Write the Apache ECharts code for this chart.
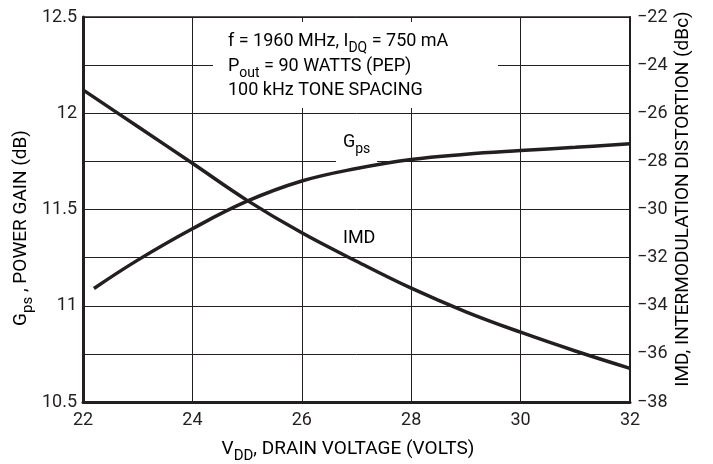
<!DOCTYPE html>
<html>
<head>
<meta charset="utf-8">
<script src="https://cdn.jsdelivr.net/npm/echarts@6/dist/echarts.min.js"></script>
<style>
  html, body { margin: 0; padding: 0; background: #fff; }
  #chart { width: 713px; height: 464px; }
</style>
</head>
<body>
<div id="chart"></div>
<script>
// drain voltage (V) vs power gain (dB) and IMD (dBc)
var gpsVolts = [22.2, 23, 24, 25, 26, 27, 28, 29, 30, 31, 32];
var gpsGain = [11.09, 11.237, 11.40, 11.543, 11.648, 11.713, 11.76, 11.787, 11.806, 11.823, 11.842];
var imdVolts = [22, 23, 24, 25, 26, 27, 28, 29, 30, 31, 32];
var imdValues = [-25.03, -26.55, -28.08, -29.62, -30.97, -32.15, -33.27, -34.25, -35.1, -35.88, -36.6];

var FONT = "Roboto, 'Liberation Sans', sans-serif";
var INK = '#231f20';

function pairs(xs, ys) {
  var out = [];
  for (var i = 0; i < xs.length; i++) out.push([xs[i], ys[i]]);
  return out;
}

// rich styles: normal text raised a bit so the subscript sits lower
function richOf(size) {
  return {
    a: { fontFamily: FONT, fontSize: size, color: INK, verticalAlign: 'bottom', padding: [0, 0, 5, 0] },
    s: { fontFamily: FONT, fontSize: Math.round(size * 0.78), color: INK, verticalAlign: 'bottom' }
  };
}
var rich = richOf(18);
var richBig = richOf(19);

var chart = echarts.init(document.getElementById('chart'));

var option = {
  backgroundColor: '#fff',
  animation: false,
  grid: {
    left: 83, right: 83, top: 17, bottom: 62,
    show: true, borderColor: INK, borderWidth: 1.5
  },
  xAxis: {
    type: 'value',
    min: 22, max: 32, interval: 2,
    axisLine: { show: true, lineStyle: { color: INK, width: 3 } },
    axisTick: { show: false },
    axisLabel: { fontFamily: FONT, fontSize: 18, color: INK, margin: 9 },
    splitLine: { show: true, lineStyle: { color: INK, width: 1 } }
  },
  yAxis: [{
    type: 'value',
    min: 10.5, max: 12.5, interval: 0.25,
    axisLine: { show: true, lineStyle: { color: INK, width: 3 } },
    axisTick: { show: false },
    axisLabel: {
      fontFamily: FONT, fontSize: 18, color: INK, margin: 6,
      formatter: function (v) {
        return (Math.round(v * 100) % 50 === 0) ? String(v) : '';
      }
    },
    splitLine: { show: true, lineStyle: { color: INK, width: 1 } }
  }, {
    type: 'value',
    position: 'right',
    min: -38, max: -22, interval: 2,
    axisLine: { show: true, lineStyle: { color: INK, width: 2 } },
    axisTick: { show: false },
    axisLabel: {
      fontFamily: FONT, fontSize: 18, color: INK, margin: 7,
      formatter: function (v) { return String(v).replace('-', '\u2212'); }
    },
    splitLine: { show: false }
  }],
  series: [{
    name: 'Gps',
    type: 'line',
    yAxisIndex: 0,
    data: pairs(gpsVolts, gpsGain),
    smooth: 0.4,
    showSymbol: false,
    lineStyle: { color: INK, width: 3.5 },
    z: 5
  }, {
    name: 'IMD',
    type: 'line',
    yAxisIndex: 1,
    data: pairs(imdVolts, imdValues),
    smooth: 0.4,
    showSymbol: false,
    lineStyle: { color: INK, width: 3.5 },
    z: 5
  }],
  graphic: [
    // white backing behind the conditions text and the Gps label
    { type: 'rect', z: 1, shape: { x: 213, y: 22, width: 285, height: 86 }, style: { fill: '#fff' } },
    { type: 'rect', z: 1, shape: { x: 336, y: 140, width: 41, height: 23 }, style: { fill: '#fff' } },
    { type: 'text', z: 6, left: 228, top: 32,
      style: { text: '{a|f = 1960 MHz, I}{s|DQ}{a| = 750 mA}', rich: rich } },
    { type: 'text', z: 6, left: 228, top: 57,
      style: { text: '{a|P}{s|out}{a| = 90 WATTS (PEP)}', rich: rich } },
    { type: 'text', z: 6, left: 228, top: 81,
      style: { text: '{a|100 kHz TONE SPACING}', rich: rich } },
    { type: 'text', z: 6, left: 343, top: 133,
      style: { text: '{a|G}{s|ps}', rich: rich } },
    { type: 'text', z: 6, left: 343, top: 229,
      style: { text: '{a|IMD}', rich: rich } },
    // axis titles
    { type: 'text', z: 6, x: 348, y: 452,
      style: { text: '{a|V}{s|DD}{a|, DRAIN VOLTAGE (VOLTS)}', rich: richBig, align: 'center', verticalAlign: 'middle' } },
    { type: 'text', z: 6, x: 24, y: 228, rotation: Math.PI / 2,
      style: { text: '{a|G}{s|ps}{a| , POWER GAIN (dB)}', rich: richBig, align: 'center', verticalAlign: 'middle' } },
    { type: 'text', z: 6, x: 686, y: 199, rotation: Math.PI / 2,
      style: { text: '{a|IMD, INTERMODULATION DISTORTION (dBc)}', rich: richBig, align: 'center', verticalAlign: 'middle' } }
  ]
};

chart.setOption(option);
</script>
</body>
</html>
